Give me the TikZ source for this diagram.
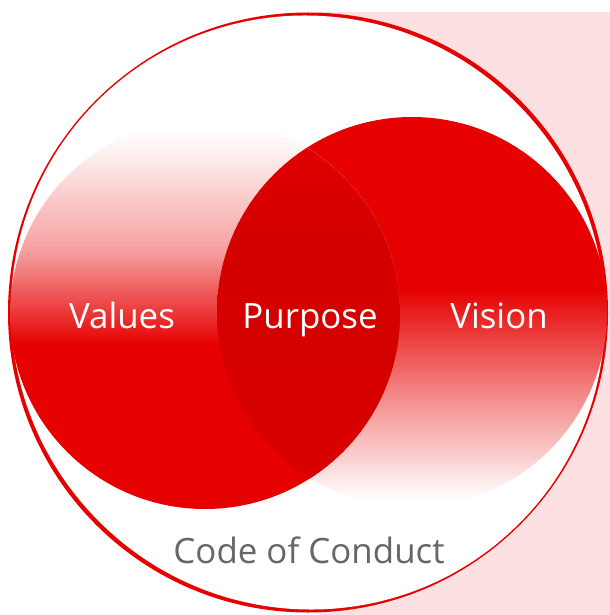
\documentclass[tikz,border=0pt]{standalone}
\usepackage{fontspec}
\setmainfont{Open Sans}

\definecolor{cocred}{HTML}{E60000}
\definecolor{cocpink}{HTML}{FCE0E2}
\definecolor{cocgrey}{HTML}{666666}

\pgfdeclareverticalshading{valuesfade}{100bp}{color(0bp)=(cocred); color(46bp)=(cocred); color(58bp)=(cocred!38!white); color(71bp)=(cocred!5!white); color(74bp)=(white); color(100bp)=(white)}
\pgfdeclareverticalshading{visionfade}{100bp}{color(0bp)=(white); color(26bp)=(white); color(39bp)=(cocred!45!white); color(53bp)=(cocred); color(100bp)=(cocred)}
\pgfdeclareverticalshading{purposefade}{100bp}{color(0bp)=(cocred!95!black); color(29bp)=(cocred!95!black); color(40bp)=(cocred!93!black); color(60bp)=(cocred!92!black); color(72bp)=(cocred!98!black); color(100bp)=(cocred!98!black)}

\begin{document}
\begin{tikzpicture}
	[x=1bp, y=-1bp,
	label/.style={text=white, font=\fontsize{35}{42}\selectfont, anchor=base}]

	\useasboundingbox (0,0) rectangle (610,615);

	% Draw background
	\fill[cocpink] (320,12) rectangle (610,615);

	% Create circles
	\coordinate (O) at (308,312.5);
	\coordinate (CVAL) at (205,314);
	\coordinate (CVIS) at (412,312);

	\fill[cocred] (O) circle (300);
	\fill[white, rotate around={-45:(O)}] (O) ellipse [x radius=298.5, y radius=295.5];

	\shade[shading=visionfade] (CVIS) circle (195);
	\shade[shading=valuesfade] (CVAL) circle (195);

	% Draw overlap
	\begin{scope}
		\clip (CVAL) circle (195);
		\clip (CVIS) circle (195);
		\shade[shading=purposefade] (0,119) rectangle (610,509);
	\end{scope}

	% Labels
	\node[label] (values) at (122,328) {Values};
	\node[label] (purpose) at (310,328) {Purpose};
	\node[label] (vision) at (499,328) {Vision};
	\node[label, text=cocgrey] (code) at (309,563) {Code of Conduct};

\end{tikzpicture}
\end{document}
